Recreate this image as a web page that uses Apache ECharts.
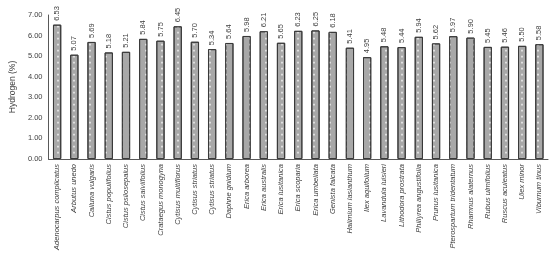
<!DOCTYPE html>
<html><head><meta charset="utf-8">
<script src="https://cdn.jsdelivr.net/npm/echarts@6/dist/echarts.min.js"></script>
<style>html,body{margin:0;padding:0;background:#fff}#c{width:550px;height:254px}</style>
</head><body><div id="c"></div>
<script>
const categories = ["Adenocarpus complicatus","Arbutus unedo","Calluna vulgaris","Cistus populifolius","Cistus psilosepalus","Cistus salviifolius","Crataegus monogyna","Cytisus multiflorus","Cytisus striatus","Cytisus striatus","Daphne gnidium","Erica arborea","Erica australis","Erica lusitanica","Erica scoparia","Erica umbellata","Genista falcata","Halimium lasianthum","Ilex aquifolium","Lavandula luisieri","Lithodora prostrata","Phillyrea angustifolia","Prunus lusitanica","Pterospartum tridentatum","Rhamnus alaternus","Rubus ulmifolius","Ruscus aculeatus","Ulex minor","Viburnum tinus"];
const hydrogen = [6.53,5.07,5.69,5.18,5.21,5.84,5.75,6.45,5.70,5.34,5.64,5.98,6.21,5.65,6.23,6.25,6.18,5.41,4.95,5.48,5.44,5.94,5.62,5.97,5.90,5.45,5.46,5.50,5.58];
const yTicks = [0,1,2,3,4,5,6,7];
const ff = '"Liberation Sans Narrow","Liberation Sans",sans-serif';
const chart = echarts.init(document.getElementById('c'), null, {renderer:'canvas'});
chart.setOption({
  animation:false,
  grid:{left:37,right:2,top:15,bottom:95},
  xAxis:{type:'category',data:categories,
    axisLine:{lineStyle:{color:'#595959',width:1}},axisTick:{show:false},
    axisLabel:{interval:0,rotate:90,fontStyle:'italic',fontSize:7.5,color:'#404040',fontFamily:ff,margin:5}},
  yAxis:{type:'value',min:0,max:7,interval:1,name:'Hydrogen (%)',nameLocation:'middle',nameGap:25,
    nameTextStyle:{fontSize:8.5,color:'#404040',fontFamily:ff},
    axisLine:{show:true,lineStyle:{color:'#595959'}},axisTick:{show:false},splitLine:{show:false},
    axisLabel:{formatter:v=>v.toFixed(2),fontSize:7.5,color:'#404040',fontFamily:ff,margin:6}},
  series:[{type:'bar',data:hydrogen,barWidth:'48%',
    itemStyle:{color:'#a8a8a8',borderColor:'#3a3a3a',borderWidth:1,
      decal:{symbol:'rect',color:'rgba(255,255,255,0.9)',symbolSize:0.35,dashArrayX:[[4,4]],dashArrayY:[5,1],rotation:0,maxTileWidth:512,maxTileHeight:512}},
    label:{show:true,position:'top',rotate:90,align:'left',verticalAlign:'middle',distance:4,
      formatter:p=>p.value.toFixed(2),fontSize:7.5,color:'#404040',fontFamily:ff}}]
});
</script></body></html>
